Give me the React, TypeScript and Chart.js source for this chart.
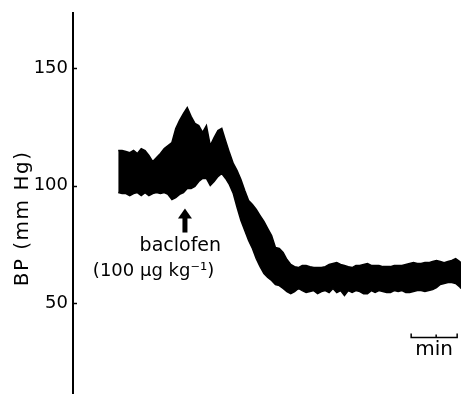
import React, { useEffect, useRef } from "react";
import { Chart, registerables } from "chart.js";

Chart.register(...registerables);

// time after start of the trace, seconds
const timeSec = [
  0, 5, 10, 15, 20, 25, 30, 35, 40, 45, 50, 55, 60, 65, 70, 75, 80, 85, 90, 95,
  100, 105, 110, 115, 120, 125, 130, 135, 140, 145, 150, 155, 160, 165, 170, 175, 180, 185, 190, 195,
  200, 205, 210, 215, 220, 225, 230, 235, 240, 245, 250, 255, 260, 265, 270, 275, 280, 285, 290, 295,
  300, 305, 310, 315, 320, 325, 330, 335, 340, 345, 350, 355, 360, 365, 370, 375, 380, 385, 390, 395,
  400, 405, 410, 415, 420, 425, 430, 435, 440, 445, 447,
];

// upper envelope of the pulsatile BP trace (mm Hg)
const upperBP = [
  114.9, 114.9, 114.5, 114.0, 114.9, 113.6, 115.7, 114.9, 112.8, 110.2, 111.9, 113.6, 115.7, 117.0, 118.3, 124.3, 127.7, 130.6, 133.2, 129.4,
  126.4, 125.5, 122.6, 125.5, 117.0, 120.4, 123.4, 124.3, 119.1, 114.0, 109.4, 106.4, 102.6, 97.9, 93.6, 91.9, 89.8, 87.2, 84.7, 81.7,
  78.7, 73.6, 73.2, 71.5, 68.5, 66.4, 65.5, 65.1, 66.0, 66.0, 65.5, 65.1, 65.1, 65.1, 65.5, 66.4, 66.8, 67.2, 66.4, 66.0,
  65.5, 65.1, 66.0, 66.0, 66.4, 66.8, 66.0, 66.0, 66.0, 65.5, 65.5, 65.5, 66.0, 66.0, 66.0, 66.4, 66.8, 67.2, 66.8, 66.8,
  67.2, 67.2, 67.7, 68.1, 67.7, 67.2, 67.7, 68.1, 68.9, 67.7, 67.2,
];

// lower envelope of the pulsatile BP trace (mm Hg)
const lowerBP = [
  97.0, 96.6, 96.6, 95.7, 96.6, 97.0, 95.7, 97.0, 95.7, 96.6, 97.0, 96.6, 97.0, 96.2, 94.0, 94.9, 96.2, 97.0, 98.7, 98.7,
  99.6, 101.7, 103.0, 103.0, 100.0, 101.7, 103.8, 105.1, 103.0, 100.4, 96.6, 90.6, 85.1, 80.9, 76.6, 73.2, 68.9, 65.5, 62.6, 60.9,
  59.6, 57.9, 57.4, 56.2, 54.9, 54.0, 54.9, 56.2, 55.3, 54.5, 54.9, 55.3, 54.0, 54.9, 55.3, 54.5, 56.2, 54.5, 55.3, 53.2,
  55.3, 54.5, 55.3, 54.9, 54.0, 54.0, 55.3, 54.5, 55.3, 54.9, 54.5, 54.5, 55.3, 54.9, 55.3, 54.5, 54.5, 54.9, 55.3, 55.3,
  54.9, 55.3, 55.7, 56.6, 57.9, 58.3, 58.7, 58.7, 58.3, 57.0, 56.2,
];

const yTicks = [50, 100, 150];
const yTitle = "BP (mm Hg)";
const drugLabel = "baclofen";
const doseLabel = "(100 µg kg⁻¹)";
const drugTime = 87; // s, arrow position
const scaleBarLabel = "min";
const scaleBarStart = 382; // s
const scaleBarLength = 60; // s

const FONT = "'DejaVu Sans', sans-serif";

const annotationPlugin = {
  id: "bpAnnotations",
  afterDraw(chart: any) {
    const { ctx, chartArea } = chart;
    const xs = chart.scales.x;
    const ys = chart.scales.y;
    ctx.save();
    ctx.fillStyle = "#000";
    ctx.strokeStyle = "#000";

    // small tick marks on the inner side of the axis
    ctx.lineWidth = 1.5;
    const ax = chartArea.left;
    yTicks.forEach((v) => {
      const py = Math.round(ys.getPixelForValue(v)) + 0.5;
      ctx.beginPath();
      ctx.moveTo(ax - 1, py);
      ctx.lineTo(ax + 4, py);
      ctx.stroke();
    });

    // axis title
    ctx.save();
    ctx.translate(23, ys.getPixelForValue(86));
    ctx.rotate(-Math.PI / 2);
    ctx.font = `20px ${FONT}`;
    try {
      (ctx as any).letterSpacing = "1.5px";
    } catch (e) {}
    ctx.textAlign = "center";
    ctx.textBaseline = "middle";
    ctx.fillText(yTitle, 0, 0);
    try {
      (ctx as any).letterSpacing = "0px";
    } catch (e) {}
    ctx.restore();

    // arrow marking drug injection
    const axp = xs.getPixelForValue(drugTime);
    const tip = ys.getPixelForValue(90.2);
    const headBase = ys.getPixelForValue(86);
    const base = ys.getPixelForValue(80);
    ctx.beginPath();
    ctx.moveTo(axp, tip);
    ctx.lineTo(axp - 7, headBase);
    ctx.lineTo(axp + 7, headBase);
    ctx.closePath();
    ctx.fill();
    ctx.fillRect(axp - 2.5, headBase - 1, 5, base - headBase + 1);

    // drug label
    ctx.textAlign = "center";
    ctx.textBaseline = "alphabetic";
    ctx.font = `19px ${FONT}`;
    ctx.fillText(drugLabel, xs.getPixelForValue(81), ys.getPixelForValue(72.3));
    ctx.font = `18px ${FONT}`;
    ctx.fillText(doseLabel, xs.getPixelForValue(46), ys.getPixelForValue(61.7));

    // time scale bar
    const b0 = xs.getPixelForValue(scaleBarStart);
    const b1 = xs.getPixelForValue(scaleBarStart + scaleBarLength);
    const bm = (b0 + b1) / 2 + 2;
    const by = Math.round(ys.getPixelForValue(35.7)) + 0.5;
    ctx.lineWidth = 1.5;
    ctx.beginPath();
    ctx.moveTo(b0, by - 4);
    ctx.lineTo(b0, by);
    ctx.lineTo(b1, by);
    ctx.lineTo(b1, by - 4);
    ctx.moveTo(bm, by);
    ctx.lineTo(bm, by - 3);
    ctx.stroke();
    ctx.font = `20px ${FONT}`;
    ctx.fillText(scaleBarLabel, (b0 + b1) / 2, ys.getPixelForValue(27.9));

    ctx.restore();
  },
};

export default function App() {
  const ref = useRef<HTMLCanvasElement>(null);

  useEffect(() => {
    if (!ref.current) return;
    const lowerData = timeSec.map((t, i) => ({ x: t, y: lowerBP[i] }));
    const upperData = timeSec.map((t, i) => ({ x: t, y: upperBP[i] }));
    const chart = new Chart(ref.current, {
      type: "line",
      data: {
        datasets: [
          {
            label: "lower",
            data: lowerData,
            borderColor: "#000",
            borderWidth: 1.5,
            pointRadius: 0,
            fill: false,
            tension: 0,
          },
          {
            label: "upper",
            data: upperData,
            borderColor: "#000",
            borderWidth: 1.5,
            backgroundColor: "#000",
            pointRadius: 0,
            fill: "-1",
            tension: 0,
          },
        ],
      },
      options: {
        responsive: false,
        animation: false,
        layout: { padding: { top: 13, bottom: 0, left: 0, right: 0 } },
        plugins: {
          legend: { display: false },
          tooltip: { enabled: false },
        },
        scales: {
          x: { type: "linear", display: false, min: -59, max: 447 },
          y: {
            type: "linear",
            position: "left",
            min: 11.3,
            max: 173.4,
            grid: { display: false, drawTicks: false },
            border: { display: true, color: "#000", width: 2 },
            ticks: {
              color: "#000",
              padding: 5,
              font: { family: "'DejaVu Sans', sans-serif", size: 18 },
            },
            afterBuildTicks: (s: any) => {
              s.ticks = yTicks.map((v) => ({ value: v }));
            },
            afterFit: (s: any) => {
              s.width = 73;
              s.paddingTop = 0;
              s.paddingBottom = 0;
            },
          },
        },
      },
      plugins: [annotationPlugin],
    });
    return () => chart.destroy();
  }, []);

  return (
    <div
      style={{
        position: "fixed",
        left: 0,
        top: 0,
        width: 461,
        height: 394,
        background: "#fff",
      }}
    >
      <canvas ref={ref} width={461} height={394} style={{ display: "block", width: 461, height: 394 }} />
    </div>
  );
}
